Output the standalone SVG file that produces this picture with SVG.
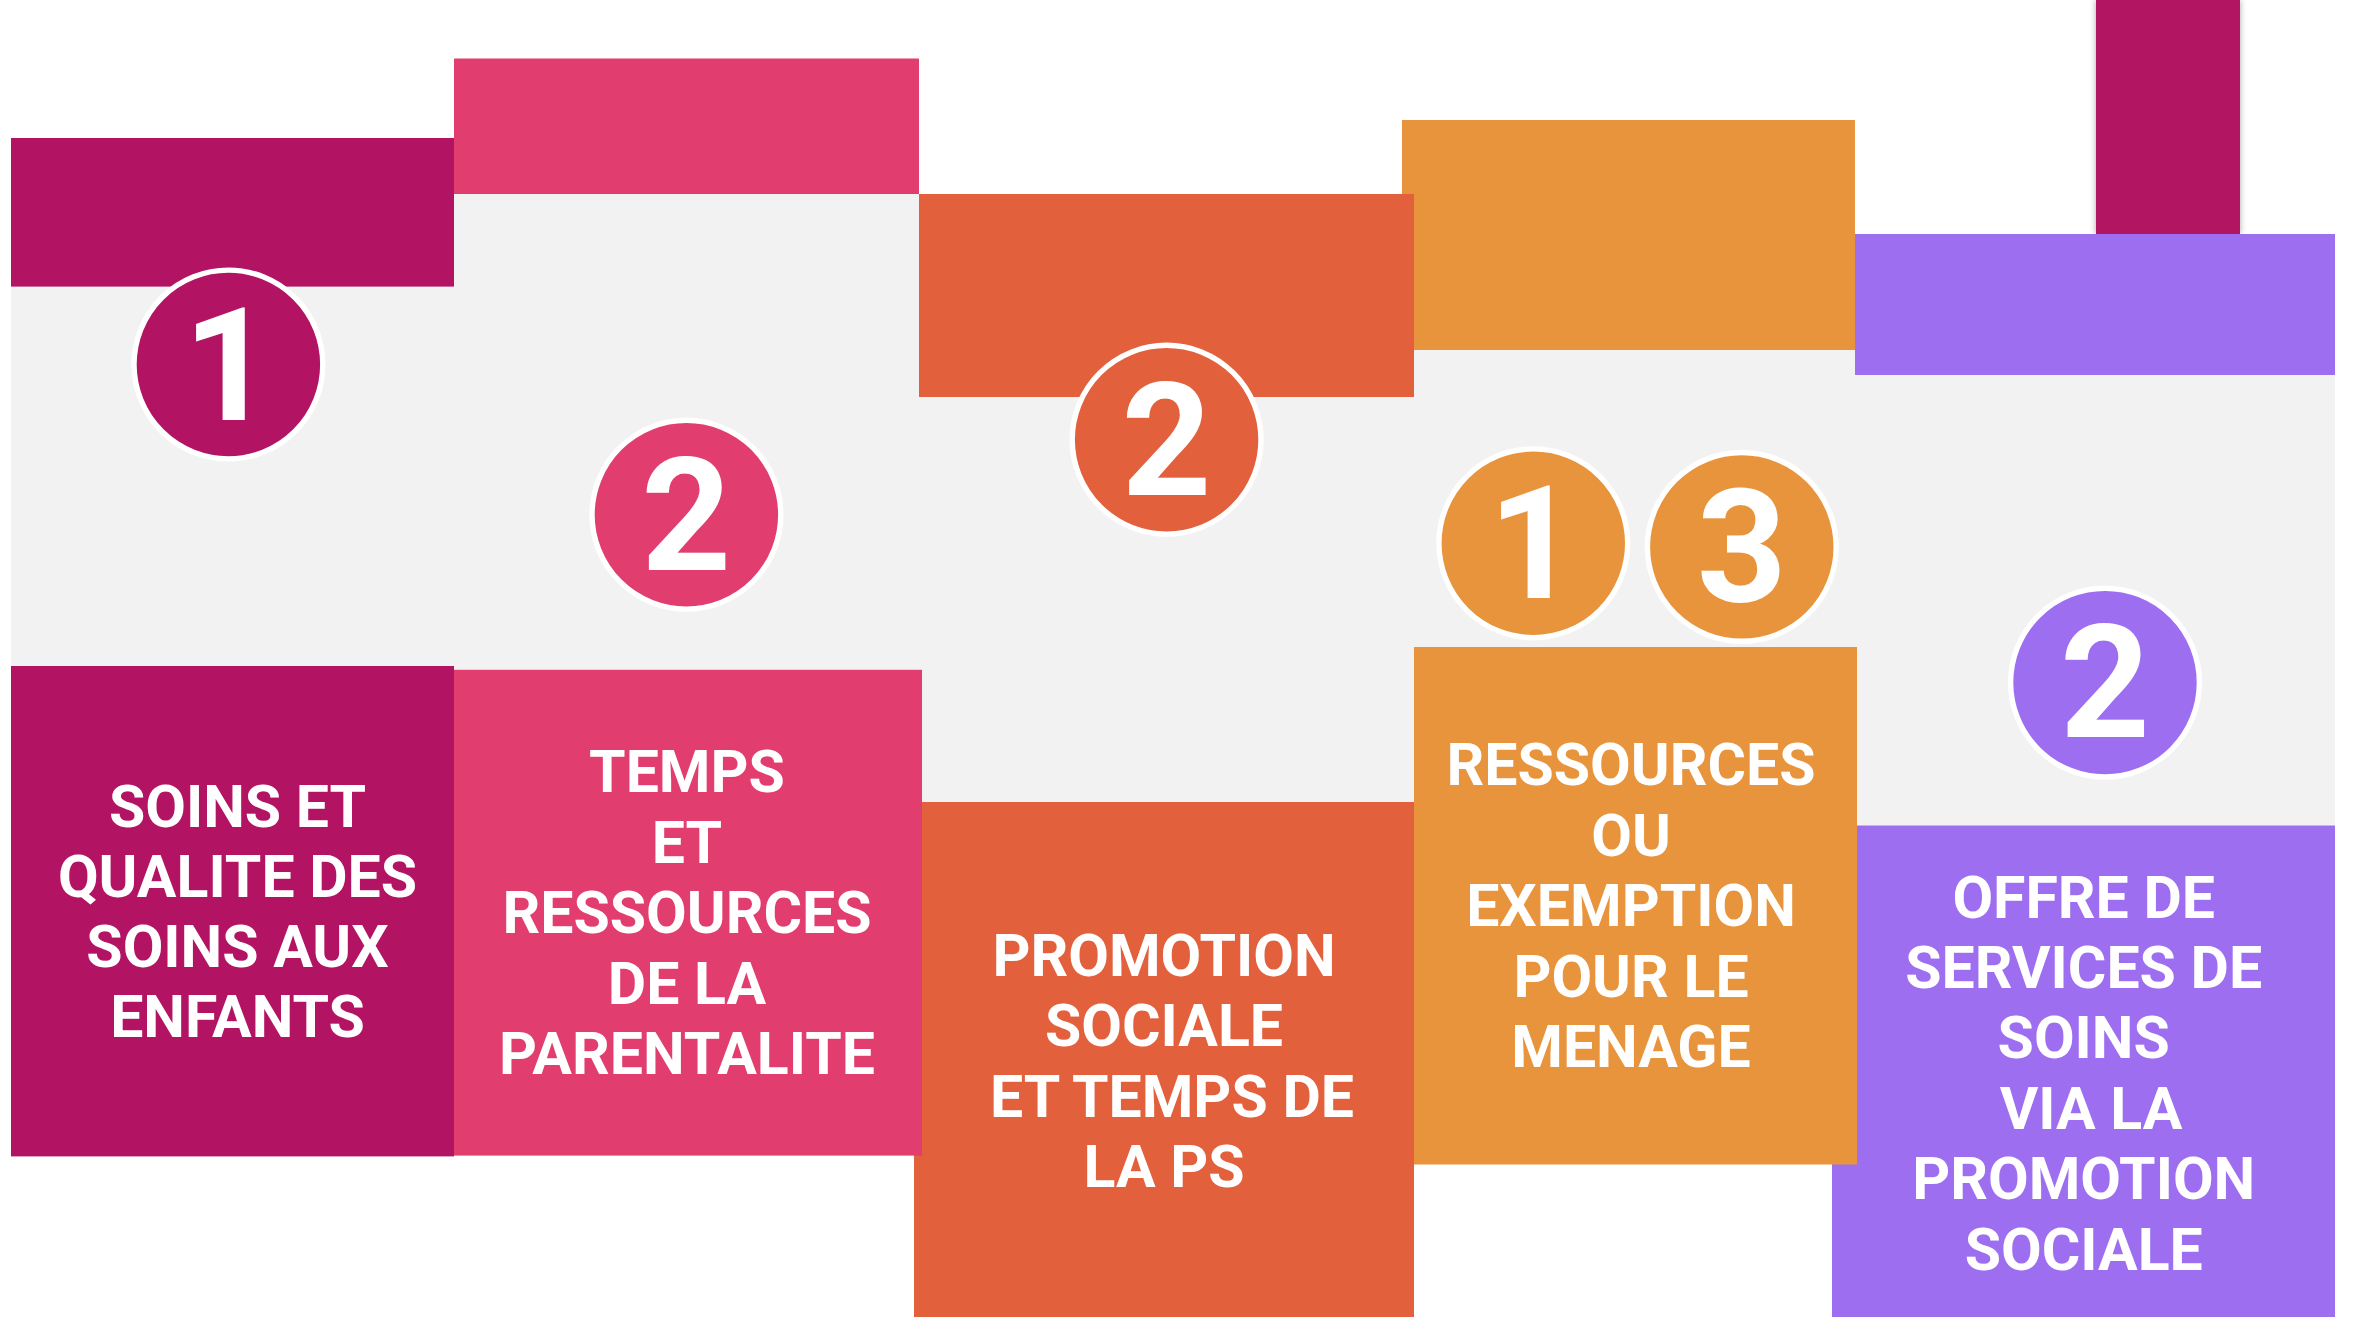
<svg xmlns="http://www.w3.org/2000/svg" width="2356" height="1317" viewBox="0 0 2356 1317">
<defs>
<style>
.lbl{font-family:Roboto,"Liberation Sans",sans-serif;font-weight:700;font-size:59px;fill:#ffffff;text-anchor:middle}
.num{font-family:Roboto,"Liberation Sans",sans-serif;font-weight:700;font-size:157px;fill:#ffffff;text-anchor:middle}
.ring{stroke:#ffffff;stroke-width:5.4}
.c1{fill:#B21463}
.c2{fill:#E23D6F}
.c3{fill:#E3603D}
.c4{fill:#E8943C}
.c5{fill:#9D6EF0}
</style>
<filter id="sh" x="-20%" y="-10%" width="140%" height="120%">
<feDropShadow dx="0" dy="0" stdDeviation="3" flood-color="#000000" flood-opacity="0.35"/>
</filter>
</defs>
<rect x="0" y="0" width="2356" height="1317" fill="#ffffff"/>
<path id="band" d="M11,194 H1855 V234 H2335 V1155 H11 Z" fill="#F2F2F2"/>
<g id="connectors"/>
<g id="deco">
<rect class="c1" x="2096" y="0" width="144" height="234" filter="url(#sh)"/>
</g>
<g id="node5">
<rect class="c5" x="1855" y="234" width="480" height="141"/>
<rect class="c5" x="1832" y="825.5" width="503" height="491.5"/>
<circle class="c5 ring" cx="2105" cy="682.6" r="94.4"/>
<text class="num" x="2105" y="737">2</text>
<text class="lbl" x="2083.7" y="917.7">OFFRE DE</text>
<text class="lbl" x="2083.7" y="988">SERVICES DE</text>
<text class="lbl" x="2083.7" y="1058.4">SOINS</text>
<text class="lbl" x="2091" y="1128.8">VIA LA</text>
<text class="lbl" x="2083.7" y="1199.2">PROMOTION</text>
<text class="lbl" x="2083.7" y="1269.5">SOCIALE</text>
</g>
<g id="node4">
<rect class="c4" x="1402" y="120" width="453" height="230"/>
<rect class="c4" x="1414" y="647" width="443" height="517.5"/>
<circle class="c4 ring" cx="1533.3" cy="543.3" r="94.4"/>
<text class="num" x="1533.3" y="597.8">1</text>
<circle class="c4 ring" cx="1741.8" cy="546.9" r="94.4"/>
<text class="num" x="1741.8" y="601.4">3</text>
<text class="lbl" x="1631" y="785.3">RESSOURCES</text>
<text class="lbl" x="1631" y="855.7">OU</text>
<text class="lbl" x="1631" y="926.1">EXEMPTION</text>
<text class="lbl" x="1631" y="996.5">POUR LE</text>
<text class="lbl" x="1631" y="1067">MENAGE</text>
</g>
<g id="node3">
<rect class="c3" x="919" y="194" width="495" height="203"/>
<rect class="c3" x="914" y="802" width="500" height="515"/>
<circle class="c3 ring" cx="1166.6" cy="439.7" r="94.4"/>
<text class="num" x="1166.6" y="494.6">2</text>
<text class="lbl" x="1164" y="976">PROMOTION</text>
<text class="lbl" x="1164" y="1046.3">SOCIALE</text>
<text class="lbl" x="1172" y="1116.6">ET TEMPS DE</text>
<text class="lbl" x="1164" y="1187">LA PS</text>
</g>
<g id="node2">
<rect class="c2" x="454" y="58.5" width="465" height="135.5"/>
<rect class="c2" x="452" y="669.8" width="470" height="485.8"/>
<circle class="c2 ring" cx="686.4" cy="514.7" r="94.4"/>
<text class="num" x="686.4" y="569.6">2</text>
<text class="lbl" x="687" y="792.4">TEMPS</text>
<text class="lbl" x="687" y="862.9">ET</text>
<text class="lbl" x="687" y="933.3">RESSOURCES</text>
<text class="lbl" x="687" y="1003.7">DE LA</text>
<text class="lbl" x="687" y="1074">PARENTALITE</text>
</g>
<g id="node1">
<rect class="c1" x="11" y="138" width="443" height="148.6"/>
<rect class="c1" x="11" y="666" width="443" height="490.4"/>
<circle class="c1 ring" cx="228.4" cy="364.5" r="94.4"/>
<text class="num" x="228.4" y="420">1</text>
<text class="lbl" x="237.5" y="826.5">SOINS ET</text>
<text class="lbl" x="237.5" y="896.8">QUALITE DES</text>
<text class="lbl" x="237.5" y="967">SOINS AUX</text>
<text class="lbl" x="237.5" y="1037.3">ENFANTS</text>
</g>
</svg>
